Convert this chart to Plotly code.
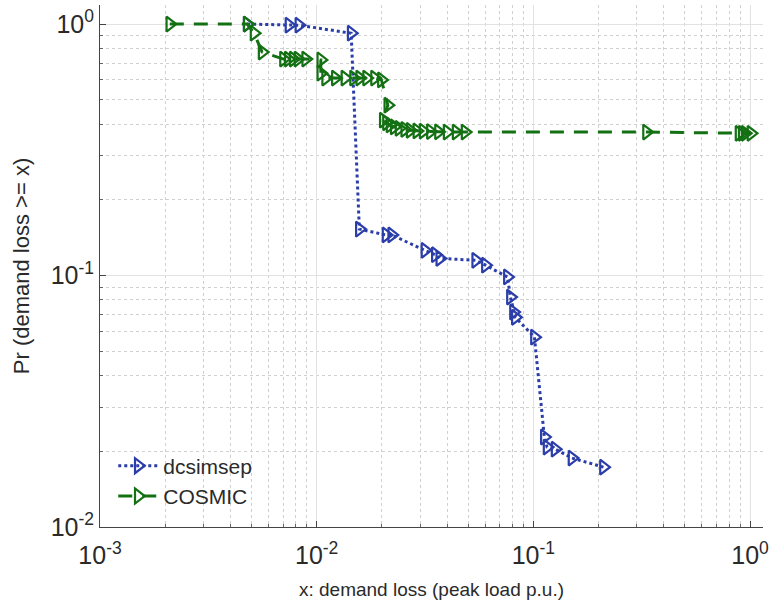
import plotly.graph_objects as go

# dcsimsep (blue, dotted)
dcs_x = [0.00478, 0.00745, 0.00828, 0.01443, 0.01574, 0.0209, 0.0222, 0.0316, 0.0353,
         0.0370, 0.0542, 0.0601, 0.0759, 0.0784, 0.0810, 0.0826, 0.1012, 0.1124,
         0.1157, 0.126, 0.1508, 0.2107]
dcs_y = [1.0, 0.99, 0.99, 0.92, 0.153, 0.145, 0.145, 0.126, 0.121,
         0.117, 0.115, 0.110, 0.0987, 0.0821, 0.0716, 0.0682, 0.0569, 0.0228,
         0.0208, 0.0204, 0.0188, 0.0173]

# COSMIC (green, dashed)
cos_x = [0.0021, 0.00478, 0.00514, 0.0056, 0.00703, 0.0074, 0.0078, 0.0082, 0.0089,
         0.01045, 0.01045, 0.0110, 0.0122, 0.0135, 0.0148, 0.0158, 0.0170, 0.0185, 0.0199,
         0.0213, 0.0203, 0.0210, 0.0218, 0.0228, 0.0240, 0.0255, 0.0270, 0.0290,
         0.0310, 0.0335, 0.0365, 0.0400, 0.0440, 0.0484,
         0.333, 0.89, 0.92, 0.95, 1.01]
cos_y = [1.0, 1.0, 0.92, 0.774, 0.726, 0.726, 0.726, 0.726, 0.726,
         0.72, 0.638, 0.61, 0.61, 0.61, 0.61, 0.61, 0.61, 0.61, 0.60,
         0.476, 0.415, 0.405, 0.397, 0.39, 0.385, 0.381, 0.378, 0.376,
         0.375, 0.374, 0.373, 0.372, 0.372, 0.372,
         0.372, 0.368, 0.368, 0.368, 0.368]

xtick_vals = [1e-3, 1e-2, 1e-1, 1e0]
xtick_text = ["10<sup>-3</sup>", "10<sup>-2</sup>", "10<sup>-1</sup>", "10<sup>0</sup>"]
ytick_vals = [1e-2, 1e-1, 1e0]
ytick_text = ["10<sup>-2</sup>", "10<sup>-1</sup>", "10<sup>0</sup>"]

blue = "#2b3da8"
green = "#137013"
FONT = "Liberation Sans, Arial, sans-serif"

fig = go.Figure()
fig.add_trace(go.Scatter(
    x=dcs_x, y=dcs_y, name="dcsimsep", mode="lines+markers",
    line=dict(color=blue, width=3, dash="3px,3px"),
    marker=dict(symbol="triangle-right-open", size=13, color=blue, line=dict(width=2.2, color=blue)),
))
fig.add_trace(go.Scatter(
    x=cos_x, y=cos_y, name="COSMIC", mode="lines+markers",
    line=dict(color=green, width=3, dash="14px,10px"),
    marker=dict(symbol="triangle-right-open", size=13, color=green, line=dict(width=2.2, color=green)),
))

axis_common = dict(
    type="log",
    showline=True, linecolor="#444", linewidth=1,
    ticks="inside", ticklen=6, tickcolor="#444",
    showgrid=True, gridcolor="#e2e2e2", gridwidth=1,
    zeroline=False, mirror=False,
    tickfont=dict(family=FONT, size=25, color="#2a2a2a"),
    minor=dict(dtick="D1", ticks="inside", ticklen=3, tickcolor="#666", showgrid=True,
               gridcolor="#d0d0d0", griddash="dot", gridwidth=1),
)

fig.update_xaxes(**axis_common, range=[-3, 0.06], tickvals=xtick_vals, ticktext=xtick_text,
                 ticklabelstandoff=6,
                 title=dict(text="x: demand loss (peak load p.u.)", standoff=14,
                            font=dict(family=FONT, size=19, color="#2a2a2a")))
fig.update_yaxes(**axis_common, range=[-2, 0.076], tickvals=ytick_vals, ticktext=ytick_text,
                 title=dict(text="Pr (demand loss >= x)", standoff=14,
                            font=dict(family=FONT, size=22, color="#2a2a2a")))

fig.update_layout(
    width=774, height=610,
    margin=dict(l=100, r=7, t=5, b=83),
    plot_bgcolor="white", paper_bgcolor="white",
    legend=dict(x=0.02, y=0.02, xanchor="left", yanchor="bottom",
                bgcolor="rgba(255,255,255,0)", borderwidth=0,
                font=dict(family=FONT, size=21, color="#2a2a2a"),
                itemwidth=40),
    showlegend=True,
)

fig.write_html("out.html")
